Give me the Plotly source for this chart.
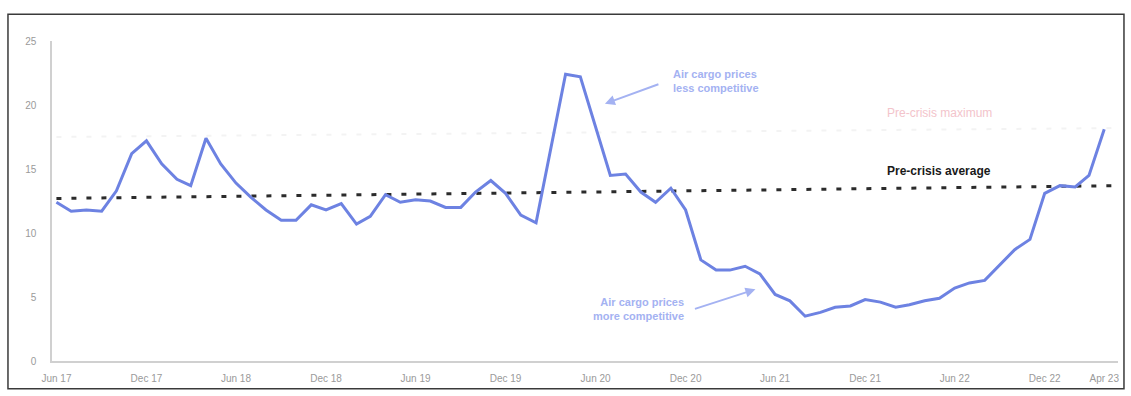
import pandas as pd
import plotly.graph_objects as go

# Monthly series, Jun 2017 - Apr 2023
months = pd.date_range("2017-06-01", "2023-04-01", freq="MS")
price_ratio = [
    # 2017 (Jun-Dec)
    12.4, 11.7, 11.8, 11.7, 13.3, 16.2, 17.2,
    # 2018
    15.4, 14.2, 13.7, 17.4, 15.4, 13.9, 12.8, 11.8, 11.0, 11.0, 12.2, 11.8,
    # 2019
    12.3, 10.7, 11.3, 13.0, 12.4, 12.6, 12.5, 12.0, 12.0, 13.2, 14.1, 13.1,
    # 2020
    11.4, 10.8, 16.5, 22.4, 22.2, 18.3, 14.5, 14.6, 13.2, 12.4, 13.5, 11.8,
    # 2021
    7.9, 7.1, 7.1, 7.4, 6.8, 5.2, 4.7, 3.5, 3.8, 4.2, 4.3, 4.8,
    # 2022
    4.6, 4.2, 4.4, 4.7, 4.9, 5.7, 6.1, 6.3, 7.5, 8.7, 9.5, 13.1,
    # 2023 (Jan-Apr)
    13.7, 13.6, 14.5, 18.1,
]

# Reference lines (start / end values)
ref_x = ["2017-06-01", "2023-05-01"]
pre_crisis_average = [12.7, 13.7]
pre_crisis_maximum = [17.5, 18.2]

tick_dates = ["2017-06-01", "2017-12-01", "2018-06-01", "2018-12-01",
              "2019-06-01", "2019-12-01", "2020-06-01", "2020-12-01",
              "2021-06-01", "2021-12-01", "2022-06-01", "2022-12-01",
              "2023-04-01"]
tick_labels = ["Jun 17", "Dec 17", "Jun 18", "Dec 18", "Jun 19", "Dec 19",
               "Jun 20", "Dec 20", "Jun 21", "Dec 21", "Jun 22", "Dec 22",
               "Apr 23"]
y_ticks = [0, 5, 10, 15, 20, 25]

FONT = "Liberation Sans, Arial, sans-serif"
BLUE = "#6d82e2"
LIGHT_BLUE = "#a4b2f2"

fig = go.Figure()

fig.add_trace(go.Scatter(
    x=ref_x, y=pre_crisis_maximum, mode="lines",
    line=dict(color="#f3f3f3", width=2, dash="5px,10px"),
    hoverinfo="skip", showlegend=False,
))
fig.add_trace(go.Scatter(
    x=ref_x, y=pre_crisis_average, mode="lines",
    line=dict(color="#2b2b2b", width=3, dash="5px,10px"),
    hoverinfo="skip", showlegend=False,
))
fig.add_trace(go.Scatter(
    x=months, y=price_ratio, mode="lines",
    line=dict(color=BLUE, width=3),
    showlegend=False,
))

annotations = [
    dict(x="2020-11-02", y=21.9, xanchor="left", yanchor="middle", align="left",
         text="<b>Air cargo prices<br>less competitive</b>", showarrow=False,
         font=dict(color=LIGHT_BLUE, size=11, family=FONT)),
    dict(x="2020-06-20", y=20.1, ax=55, ay=-20, text="", showarrow=True,
         arrowhead=2, arrowsize=1, arrowwidth=2, arrowcolor=LIGHT_BLUE),
    dict(x="2020-12-02", y=4.1, xanchor="right", yanchor="middle", align="right",
         text="<b>Air cargo prices<br>more competitive</b>", showarrow=False,
         font=dict(color=LIGHT_BLUE, size=11, family=FONT)),
    dict(x="2021-04-22", y=5.6, ax=-62, ay=20, text="", showarrow=True,
         arrowhead=2, arrowsize=1, arrowwidth=2, arrowcolor=LIGHT_BLUE),
    dict(x="2022-05-01", y=14.86, xanchor="center", yanchor="middle",
         text="<b>Pre-crisis average</b>", showarrow=False,
         font=dict(color="#1a1a1a", size=12, family=FONT)),
    dict(x="2022-05-01", y=19.4, xanchor="center", yanchor="middle",
         text="Pre-crisis maximum", showarrow=False,
         font=dict(color="#f3c4cb", size=12, family=FONT)),
]

fig.update_layout(
    width=1131, height=396,
    margin=dict(l=52, r=13, t=41, b=32),
    paper_bgcolor="white", plot_bgcolor="white",
    font=dict(family=FONT, size=10, color="#9a9a9a"),
    annotations=annotations,
    shapes=[dict(type="rect", xref="paper", yref="paper",
                 x0=-0.0413, x1=1.0056, y0=-0.0867, y1=1.0836,
                 line=dict(color="#3a3a3a", width=1.5))],
    xaxis=dict(
        type="date", range=["2017-05-23", "2023-04-29"],
        tickvals=tick_dates, ticktext=tick_labels,
        showgrid=False, zeroline=False,
        showline=True, linecolor="#d0d0d0", linewidth=1.5,
        ticks="", ticklabelstandoff=7,
        tickfont=dict(size=10, color="#9a9a9a"),
    ),
    yaxis=dict(
        range=[0, 25], tickvals=y_ticks,
        showgrid=False, zeroline=False,
        showline=True, linecolor="#d0d0d0", linewidth=1.5,
        ticks="", ticklabelstandoff=12,
        tickfont=dict(size=10, color="#9a9a9a"),
    ),
)

fig.write_html("out.html")
